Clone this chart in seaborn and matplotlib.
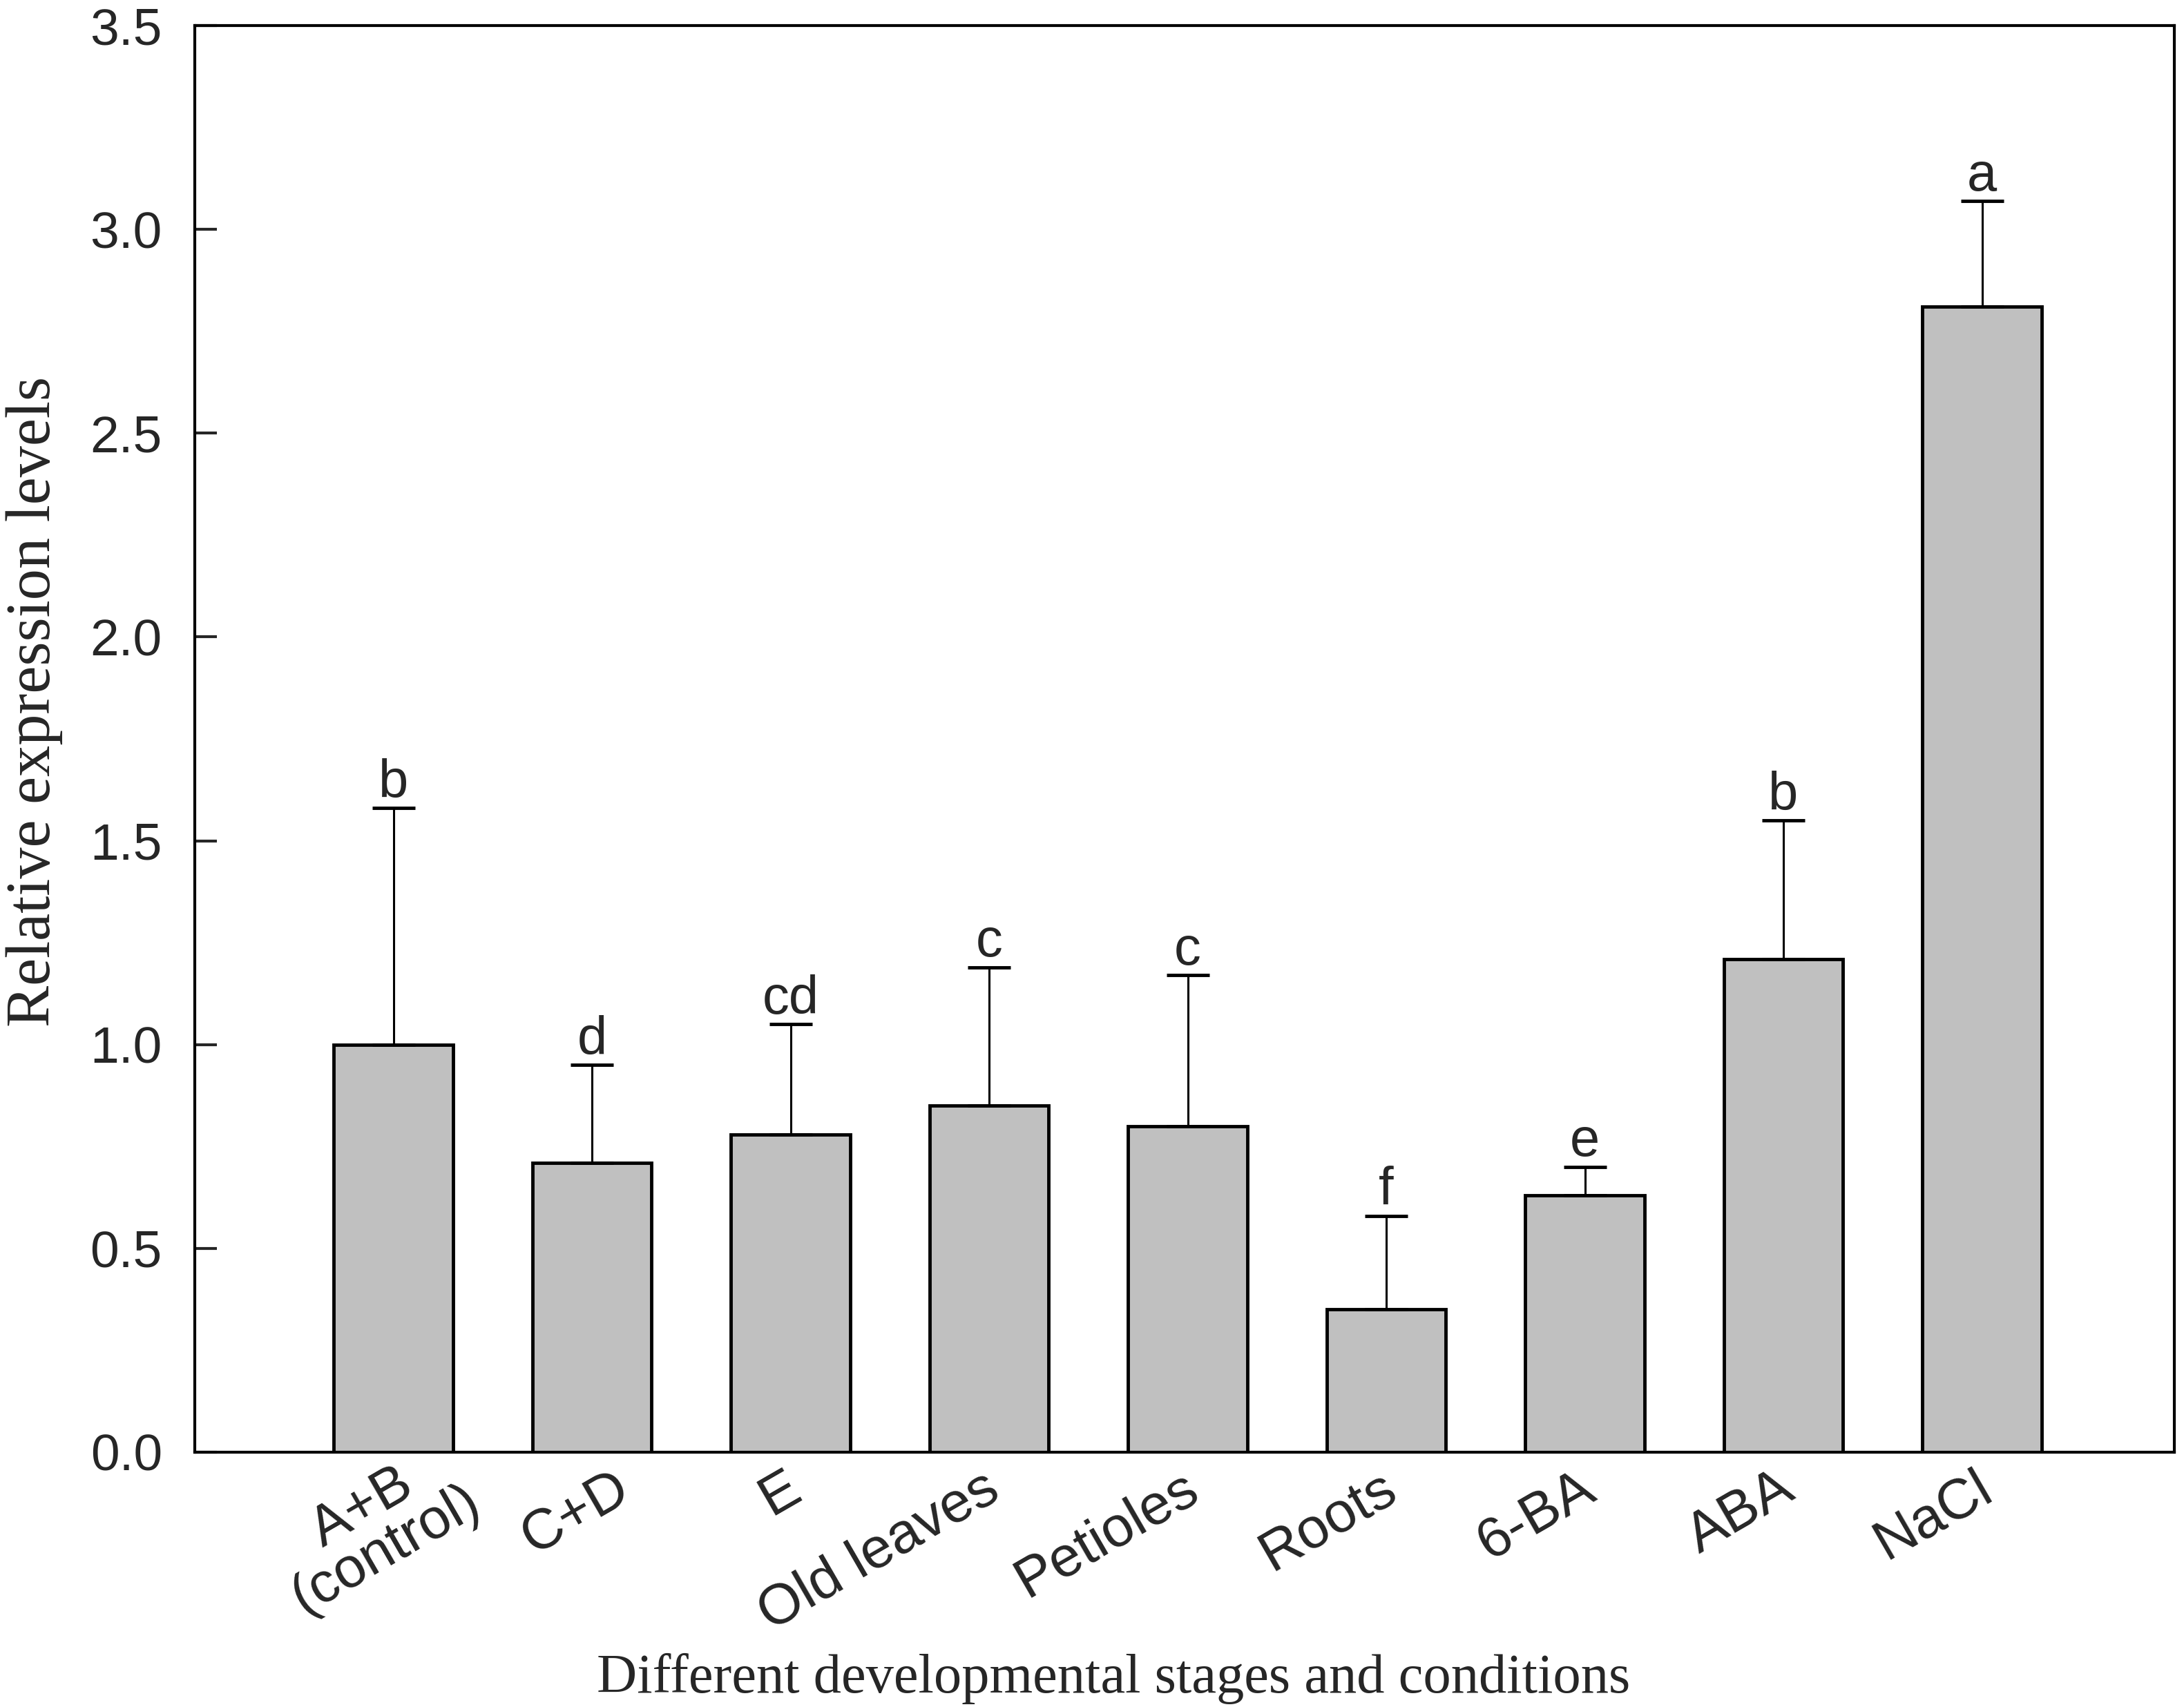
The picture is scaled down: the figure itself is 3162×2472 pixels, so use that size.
import numpy as np
import pandas as pd
import seaborn as sns
import matplotlib.pyplot as plt
import matplotlib.transforms as mtrans

# data
categories = ['A+B\n(control)', 'C+D', 'E', 'Old leaves', 'Petioles',
              'Roots', '6-BA', 'ABA', 'NaCl']
means = [1.00, 0.71, 0.78, 0.85, 0.80, 0.35, 0.63, 1.21, 2.81]
errors = [0.58, 0.24, 0.27, 0.34, 0.37, 0.23, 0.07, 0.34, 0.26]
letters = ['b', 'd', 'cd', 'c', 'c', 'f', 'e', 'b', 'a']
yticks = [0.0, 0.5, 1.0, 1.5, 2.0, 2.5, 3.0, 3.5]

df = pd.DataFrame({'group': categories, 'level': means})

sns.set_style('white')
sans = ['Liberation Sans', 'DejaVu Sans']
serif = ['Liberation Serif', 'DejaVu Serif']
plt.rcParams['font.family'] = sans

fig = plt.figure(figsize=(31.62, 24.72), dpi=100)
ax = fig.add_axes([0.0892, 0.1493, 0.9065, 0.8357])

sns.barplot(data=df, x='group', y='level', order=categories,
            color='#c0c0c0', saturation=1, edgecolor='black',
            linewidth=3.5, width=0.6, errorbar=None, ax=ax)

xpos = np.arange(len(categories))
ax.errorbar(xpos, means, yerr=[np.zeros(len(errors)), errors], fmt='none',
            ecolor='black', elinewidth=2.2, capsize=22, capthick=3.5,
            zorder=3)

for x, m, e, lab in zip(xpos, means, errors, letters):
    ax.annotate(lab, (x, m + e), xytext=(0, 11), textcoords='offset points',
                ha='center', va='baseline', fontsize=56, family=sans)

ax.set_xlim(-1.0, len(categories) - 0.03)
ax.set_ylim(0, 3.5)
ax.set_yticks(yticks)
ax.set_yticklabels([f'{t:.1f}' for t in yticks], fontsize=54)

ax.tick_params(axis='y', direction='in', length=23, width=3, pad=34,
               left=True, right=False)
ax.tick_params(axis='x', length=0, pad=10)
ax.set_xticks(xpos)
ax.set_xticklabels(categories, fontsize=59, rotation=30, ha='right',
                   va='top', rotation_mode='anchor', multialignment='center',
                   linespacing=0.9)

# nudge the rotated labels (inches); the first one is two lines, so line
# up its first line with the bar like the others
nudges = {0: (0.66, 0.42), 1: (0.30, 0.0)}
for i, lbl in enumerate(ax.get_xticklabels()):
    dx, dy = nudges.get(i, (-0.10, 0.0))
    lbl.set_transform(lbl.get_transform() +
                      mtrans.ScaledTranslation(dx, dy, fig.dpi_scale_trans))

for s in ax.spines.values():
    s.set_visible(True)
    s.set_linewidth(3)
    s.set_color('black')

ax.set_xlabel('Different developmental stages and conditions',
              fontsize=58, family=serif)
ax.set_ylabel('Relative expression levels', fontsize=65, family=serif)
ax.xaxis.set_label_coords(0.464, -0.1408)
ax.yaxis.set_label_coords(-0.0665, 0.526)

fig.savefig('out.png', dpi=100)
